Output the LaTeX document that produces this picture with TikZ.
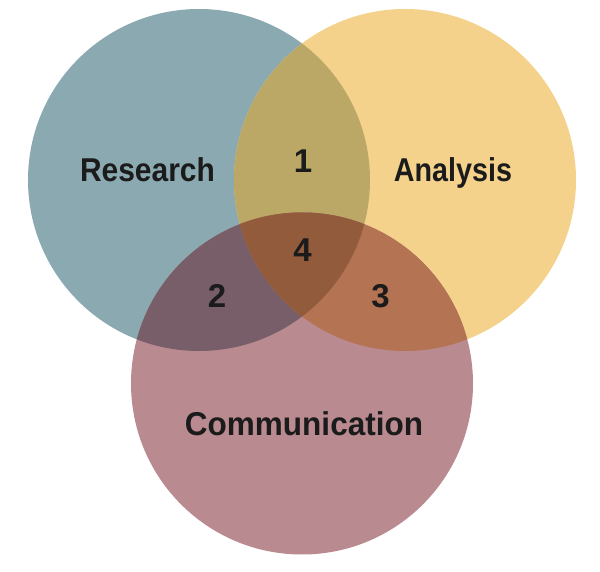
\documentclass[tikz,border=0pt]{standalone}
\usepackage{fontspec}
\setmainfont{Liberation Sans}
\usepackage{graphicx}
\definecolor{cR}{HTML}{8AA9B0}
\definecolor{cA}{HTML}{F4D28C}
\definecolor{cC}{HTML}{B98A90}
\definecolor{cRA}{HTML}{BBA866}
\definecolor{cRC}{HTML}{775E68}
\definecolor{cAC}{HTML}{B47352}
\definecolor{cRAC}{HTML}{925B3C}
\definecolor{ink}{HTML}{1B1B1B}
\tikzset{
  lbl/.style={anchor=base, inner sep=0pt, text=ink, font=\fontsize{33pt}{36pt}\selectfont\bfseries},
}
\begin{document}
\begin{tikzpicture}[x=1pt,y=-1pt]
\useasboundingbox (0,0) rectangle (600,572);
\coordinate (R) at (199,180);
\coordinate (A) at (405,180);
\coordinate (C) at (302,383.5);
\def\rad{171pt}
\fill[cR] (R) circle[radius=\rad];
\fill[cA] (A) circle[radius=\rad];
\fill[cC] (C) circle[radius=\rad];
\begin{scope}
  \clip (R) circle[radius=\rad];
  \fill[cRA] (A) circle[radius=\rad];
  \fill[cRC] (C) circle[radius=\rad];
\end{scope}
\begin{scope}
  \clip (A) circle[radius=\rad];
  \fill[cAC] (C) circle[radius=\rad];
\end{scope}
\begin{scope}
  \clip (R) circle[radius=\rad];
  \clip (A) circle[radius=\rad];
  \fill[cRAC] (C) circle[radius=\rad];
\end{scope}
\node[lbl] (research) at (147.5,181.7) {\scalebox{0.908}[1]{Research}};
\node[lbl] (analysis) at (453,181.7) {\scalebox{0.87}[1]{Analysis}};
\node[lbl] (communication) at (304,435) {\scalebox{0.955}[1]{Communication}};
\node[lbl] (n1) at (303,172.3) {1};
\node[lbl] (n4) at (302.5,261.7) {4};
\node[lbl] (n2) at (217,308) {2};
\node[lbl] (n3) at (380.5,308) {3};
\end{tikzpicture}
\end{document}
